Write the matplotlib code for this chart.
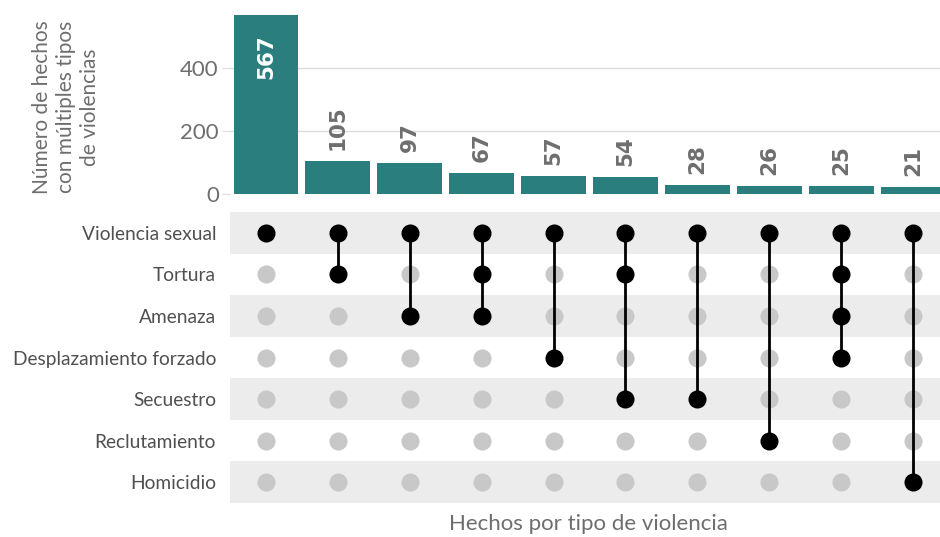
import numpy as np
import matplotlib.pyplot as plt

plt.rcParams['font.family'] = ['Lato', 'DejaVu Sans']

# Data
sets = ["Violencia sexual", "Tortura", "Amenaza", "Desplazamiento forzado",
        "Secuestro", "Reclutamiento", "Homicidio"]
counts = [567, 105, 97, 67, 57, 54, 28, 26, 25, 21]
combos = [
    ["Violencia sexual"],
    ["Violencia sexual", "Tortura"],
    ["Violencia sexual", "Amenaza"],
    ["Violencia sexual", "Tortura", "Amenaza"],
    ["Violencia sexual", "Desplazamiento forzado"],
    ["Violencia sexual", "Tortura", "Secuestro"],
    ["Violencia sexual", "Secuestro"],
    ["Violencia sexual", "Reclutamiento"],
    ["Violencia sexual", "Tortura", "Amenaza", "Desplazamiento forzado"],
    ["Violencia sexual", "Homicidio"],
]

teal = "#2a7f7e"
grey_txt = "#6e6e6e"
W, H = 940, 537
fig = plt.figure(figsize=(9.4, 5.37), dpi=100)

left, right = 230 / W, 940 / W
xmax = -0.5 + 710 / 71.9
x = np.arange(len(counts))

# Bars
ax1 = fig.add_axes([left, 1 - 194 / H, right - left, (194 - 15) / H])
ax1.bar(x, counts, width=0.9, color=teal, zorder=3)
ax1.set_xlim(-0.5, xmax)
ax1.set_ylim(0, 567)
ax1.set_yticks([0, 200, 400])
ax1.grid(axis="y", color="#dddddd", lw=1, zorder=0)
ax1.set_xticks([])
for s in ax1.spines.values():
    s.set_visible(False)
ax1.tick_params(axis="y", length=6, color="#dddddd", labelsize=16, labelcolor=grey_txt, pad=2)
for i, c in enumerate(counts):
    if i == 0:
        ax1.annotate(str(c), (i, c), xytext=(0, -14), textcoords="offset points",
                     rotation=90, ha="center", va="top", color="white",
                     fontsize=15.5, fontweight="bold", family="DejaVu Sans")
    else:
        ax1.annotate(str(c), (i, c), xytext=(0, 8), textcoords="offset points",
                     rotation=90, ha="center", va="bottom", color=grey_txt,
                     fontsize=15.5, fontweight="bold", family="DejaVu Sans")
fig.text(66 / W, 1 - 107 / H, "Número de hechos\ncon múltiples tipos\nde violencias",
         rotation=90, ha="center", va="center", fontsize=15, color=grey_txt,
         linespacing=1.25, multialignment="center")

# Matrix
ax2 = fig.add_axes([left, 1 - 503 / H, right - left, (503 - 212) / H])
ax2.set_xlim(-0.5, xmax)
ax2.set_ylim(len(sets) - 0.5, -0.5)
for r in range(0, len(sets), 2):
    ax2.axhspan(r - 0.5, r + 0.5, color="#ececec", zorder=0, lw=0)
for i, combo in enumerate(combos):
    ys = [sets.index(s) for s in combo]
    for r in range(len(sets)):
        if r not in ys:
            ax2.plot(i, r, "o", ms=13, color="#c8c8c8", mec="none", zorder=2)
    ax2.plot([i, i], [min(ys), max(ys)], color="black", lw=2, zorder=3)
    ax2.plot([i] * len(ys), ys, "o", ms=13, color="black", mec="none", zorder=4)
ax2.set_xticks([])
ax2.set_yticks(range(len(sets)))
ax2.set_yticklabels(sets)
ax2.tick_params(axis="y", length=0, labelsize=13.8, labelcolor="#505050", pad=10)
for s in ax2.spines.values():
    s.set_visible(False)
fig.text(588 / W, 1 - 524 / H, "Hechos por tipo de violencia", ha="center", va="center",
         fontsize=16, color=grey_txt)

fig.savefig("out.png", dpi=100)
